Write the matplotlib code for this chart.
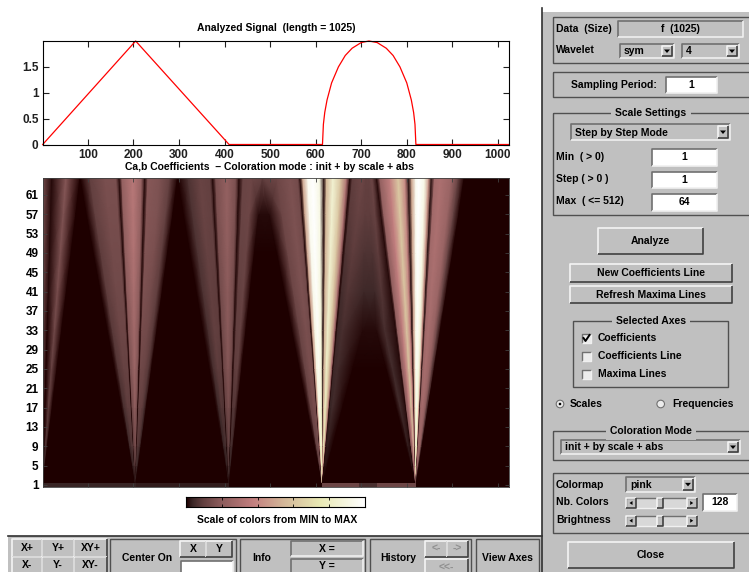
import numpy as np
import matplotlib
matplotlib.use("Agg")
import matplotlib.pyplot as plt
from matplotlib.colors import LinearSegmentedColormap
from matplotlib.patches import Rectangle, Circle, Polygon

plt.rcParams['font.family'] = ['Liberation Sans', 'DejaVu Sans']
plt.rcParams['font.weight'] = 'bold'

# signal
signal_x = [1, 205, 410, 615, 617, 620, 625, 635, 650, 665, 680, 700, 717, 735,
            755, 770, 785, 800, 810, 815, 818, 820, 1025]
signal_y = [0, 2, 0, 0, .39, .62, .86, 1.19, 1.50, 1.72, 1.86, 1.97, 2, 1.97,
            1.86, 1.72, 1.50, 1.19, .86, .62, .39, 0, 0]
signal_xticks = [100, 200, 300, 400, 500, 600, 700, 800, 900, 1000]
signal_yticks = [0, .5, 1, 1.5]
signal_yticklabels = ['0', '0.5', '1', '1.5']
scale_ticks = [1, 5, 9, 13, 17, 21, 25, 29, 33, 37, 41, 45, 49, 53, 57, 61]

# coefficient image: band knots at scale 1 and scale 64, with the level at scale 64
knot_bottom = [1, 1, 1, 1,
               205, 205, 205, 205, 205, 205, 205, 205, 205, 205, 205, 205, 205,
               410, 410, 410, 410, 410, 410, 410, 410, 410, 410, 410, 410,
               615, 615, 615, 615, 615, 615, 615, 615, 615, 615, 615, 615, 615, 615, 615, 615, 615, 615,
               820, 820, 820, 820, 820, 820, 820, 820, 820, 820, 820, 820, 820, 820, 820, 820, 820, 820, 820,
               1025]
knot_top = [1, 21, 52, 83,
            84, 105, 137, 162, 169, 175, 199, 218, 225, 232, 258, 280, 297,
            298, 320, 346, 368, 374, 381, 405, 425, 432, 441, 460, 483,
            484, 515, 544, 561, 566, 572, 583, 594, 609, 618, 624, 638, 655, 668, 675, 681, 702, 710,
            716, 724, 734, 741, 763, 781, 796, 804, 811, 820, 826, 839, 848, 854, 861, 874, 898, 913, 926,
            1025]
knot_level = [.14, .01, .18, 0,
              0, .1, .15, .15, .01, .22, .34, .22, .01, .18, .16, .1, 0,
              0, .07, .11, .1, .01, .15, .22, .15, .01, .11, .12, .1,
              .1, .12, .16, .14, .01, .5, .95, 1, .9, .02, .55, .85, .6, .3, .01, .09, .12, .1,
              .1, .12, .01, .22, .38, .62, .4, .02, .5, .95, 1, .9, .45, .02, .27, .3, .24, .1, 0,
              0]
knot_group = list("AAAA" "BBBBBBBBBBBBB" "CCCCCCCCCCCG"
                  "GDDDDDDDDDDDDDDSSV" "VSDDDDDDDDDDDDDDDDD" "Z")
# knots that leave the straight cone line, position at scale 33
knot_mid = {46: 704, 47: 734, 48: 752}

image_scales = [1.5, 5, 9, 17, 25, 33, 41, 49, 57, 64.5]
group_gain = {
    'A': [.05, .2, .35, .55, .65, .75, .85, .9, .95, 1],
    'B': [.15, .3, .42, .6, .72, .8, .87, .93, .98, 1],
    'C': [.15, .3, .45, .65, .8, .88, .92, .96, 1, 1],
    'D': [.55, .75, .85, .92, .95, .97, .98, .99, 1, 1],
    'S': [.05, .15, .25, .4, .45, .5, .6, .75, .9, 1],
    'V': [0, 0, 0, 0, 0, .1, .4, .7, .9, 1],
    'G': [0, 0, 0, 0, 0, 0, 0, .05, .1, 1],
    'Z': [0, 0, 0, 0, 0, 0, 0, 0, 0, 0],
}
# the single row at scale 1
strip_edges = [1, 205, 410, 615, 695, 735, 820, 1025]
strip_level = [.035, .03, 0, .12, .06, .12, 0]

pink_stops = [(0, (.118, 0, 0)), (.03, (.217, .141, .141)), (.09, (.38, .245, .245)),
              (.1875, (.54, .354, .354)), (.375, (.764, .5, .5)), (.55, (.83, .72, .6)),
              (.75, (.913, .913, .707)), (1, (1, 1, 1))]

W, H = 749, 572
GREY = '#c0c0c0'
LIGHT = '#e8e8e8'
DARK = '#707070'

pink = LinearSegmentedColormap.from_list('matlab_pink', pink_stops, N=128)

fig = plt.figure(figsize=(W / 100, H / 100), dpi=100, facecolor='white')


def px_axes(x0, y0, x1, y1):
    return fig.add_axes([x0 / W, 1 - y1 / H, (x1 - x0) / W, (y1 - y0) / H])


ui = fig.add_axes([0, 0, 1, 1], zorder=0)
ui.set_xlim(0, W)
ui.set_ylim(H, 0)
ui.axis('off')


def box(x0, y0, x1, y1, face=GREY, tl=LIGHT, br=DARK, lw=1.0):
    ui.add_patch(Rectangle((x0, y0), x1 - x0, y1 - y0, fc=face, ec='none'))
    ui.plot([x0, x0, x1], [y1, y0, y0], color=tl, lw=lw, solid_capstyle='butt')
    ui.plot([x0, x1, x1], [y1, y1, y0], color=br, lw=lw, solid_capstyle='butt')


def button(x0, y0, x1, y1, label=None, size=7.5, color='black'):
    box(x0, y0, x1, y1, tl='#f4f4f4', br='#404040', lw=1.2)
    if label:
        label_at((x0 + x1) / 2, (y0 + y1) / 2, label, ha='center', size=size, color=color)


def frame(x0, y0, x1, y1, title=None, tx=None):
    ui.add_patch(Rectangle((x0, y0), x1 - x0, y1 - y0, fc='none', ec='#505050', lw=1.0))
    if title:
        ui.text(tx, y0, title, ha='center', va='center', fontsize=7.5,
                bbox=dict(fc=GREY, ec='none', pad=3))


def edit(x0, y0, x1, y1, label=None):
    box(x0, y0, x1, y1, face='white', tl=DARK, br='#f0f0f0', lw=1.2)
    if label:
        label_at((x0 + x1) / 2, (y0 + y1) / 2, label, ha='center')


def popup(x0, y0, x1, y1, label):
    box(x0, y0, x1, y1, face=GREY, tl=DARK, br='#f0f0f0', lw=1.2)
    label_at(x0 + 4, (y0 + y1) / 2 + .5, label)
    button(x1 - 12, y0 + 2, x1 - 2, y1 - 2)
    cy = (y0 + y1) / 2
    ui.add_patch(Polygon([(x1 - 10, cy - 1.5), (x1 - 4, cy - 1.5), (x1 - 7, cy + 2)], fc='black', ec='none'))


def slider(x0, y0, x1, y1, thumb):
    box(x0, y0, x1, y1, face='#d8d8d8', tl=DARK, br='#f0f0f0')
    button(x0, y0, x0 + 10, y1)
    button(x1 - 10, y0, x1, y1)
    button(thumb, y0, thumb + 6, y1)
    cy = (y0 + y1) / 2
    ui.add_patch(Polygon([(x0 + 6.5, cy - 2), (x0 + 6.5, cy + 2), (x0 + 3.5, cy)], fc='black', ec='none'))
    ui.add_patch(Polygon([(x1 - 6.5, cy - 2), (x1 - 6.5, cy + 2), (x1 - 3.5, cy)], fc='black', ec='none'))


def label_at(x, y, s, ha='left', size=7.5, color='black'):
    ui.text(x, y, s, ha=ha, va='center', fontsize=size, color=color)


# bottom bar
ui.add_patch(Rectangle((8, 536), 534, H - 536, fc=GREY, ec='none'))
ui.plot([8, 541.5], [535.5, 535.5], color='#303030', lw=1.2)
for x0, x1, up, down in [(12, 42, 'X+', 'X-'), (42, 74, 'Y+', 'Y-'), (74, 107, 'XY+', 'XY-')]:
    button(x0, 539, x1, 557, up)
    button(x0, 557, x1, 574, down)
frame(110, 539, 236, 576)
label_at(147, 558, 'Center On', ha='center')
button(180, 541, 206, 557, 'X')
button(206, 541, 232, 557, 'Y')
edit(181, 561, 233, 576)
frame(240, 539, 365, 576)
label_at(262, 558, 'Info', ha='center')
box(291, 541, 363, 556, tl=DARK, br='#f0f0f0', lw=1.2)
label_at(327, 549, 'X =', ha='center')
box(291, 559, 363, 576, tl=DARK, br='#f0f0f0', lw=1.2)
label_at(327, 566, 'Y =', ha='center')
frame(370, 539, 471, 576)
label_at(398, 558, 'History', ha='center')
button(425, 541, 447, 557, '<-', color='#909090')
button(447, 541, 468, 557, '->', color='#909090')
button(425, 559, 468, 576, '<<-', color='#909090')
frame(476, 539, 539, 576)
label_at(507, 558, 'View Axes', ha='center')

# right panel
ui.add_patch(Rectangle((542, 12), W - 542, H - 12, fc=GREY, ec='none'))
ui.plot([541.5, 541.5], [8, H], color='#303030', lw=1.2)

frame(552.7, 16.7, 752, 63.3)
label_at(556, 29, 'Data  (Size)')
box(618, 20.7, 743, 36.7, tl=DARK, br='#f0f0f0', lw=1.2)
label_at(680, 29, 'f  (1025)', ha='center')
label_at(556, 50, 'Wavelet')
popup(620, 44, 674, 58, 'sym')
popup(682, 44, 739, 58, '4')

frame(552.7, 72, 752, 97)
label_at(570.7, 84.5, 'Sampling Period:')
edit(666, 76.7, 717, 93.3, '1')

frame(552.7, 112.7, 752, 215, 'Scale Settings', 651)
popup(570.7, 124, 730, 140, 'Step by Step Mode')
label_at(556, 157, 'Min  ( > 0)')
edit(651.7, 149, 717, 165.7, '1')
label_at(556, 179, 'Step ( > 0 )')
edit(651.7, 171.7, 717, 188.3, '1')
label_at(556, 201, 'Max  ( <= 512)')
edit(651.7, 194, 717, 210.7, '64')

button(598, 228, 703, 254, 'Analyze')
button(570, 264, 731.7, 281.7, 'New Coefficients Line')
button(570, 286, 731.7, 303, 'Refresh Maxima Lines')

frame(573, 321, 728, 386.7, 'Selected Axes', 651)
for cy, name in zip([338, 356, 374], ['Coefficients', 'Coefficients Line', 'Maxima Lines']):
    box(581.7, cy - 4.5, 591, cy + 4.5, face='#ececec', tl=DARK, br='#f0f0f0')
    label_at(598, cy, name)
ui.plot([583.5, 585.5, 589.5], [338, 341, 335], color='black', lw=1.4)

ui.add_patch(Circle((560, 404), 3.8, fc='#ececec', ec=DARK, lw=.8))
ui.add_patch(Circle((560, 404), 1.3, fc='black', ec='none'))
label_at(570, 404, 'Scales')
ui.add_patch(Circle((660.7, 404), 3.8, fc='#ececec', ec=DARK, lw=.8))
label_at(672, 404, 'Frequencies')

frame(552.7, 431, 752, 460, 'Coloration Mode', 650.7)
popup(560.7, 440, 740, 454, 'init + by scale + abs')

frame(552.7, 472.7, 752, 532.7)
label_at(556, 484.7, 'Colormap')
popup(626, 476.7, 695, 492, 'pink')
label_at(556, 502, 'Nb. Colors')
slider(626, 498, 696.7, 508, 657)
edit(703, 494, 737, 510.7, '128')
label_at(556, 520, 'Brightness')
slider(626, 515.7, 696.7, 525.7, 657)

button(568, 541.7, 734, 568.3, 'Close')

# signal plot
ax1 = px_axes(42.7, 41, 509.3, 144.5)
ax1.set_zorder(2)
ax1.plot(signal_x, signal_y, color='red', lw=.9, clip_on=False)
ax1.set_xlim(1, 1025)
ax1.set_ylim(0, 2)
ax1.set_xticks(signal_xticks)
ax1.set_yticks(signal_yticks)
ax1.set_yticklabels(signal_yticklabels)
ax1.tick_params(direction='in', top=True, right=True, length=4, width=.8, labelsize=8.5, pad=3, colors='#202020')
ax1.set_title('Analyzed Signal  (length = 1025)', fontsize=7.5, fontweight='bold', pad=7)

# coefficient image
bottom = np.array(knot_bottom, dtype=float)
top = np.array(knot_top, dtype=float)
mid = bottom + (top - bottom) * 32 / 63
for k, v in knot_mid.items():
    mid[k] = v
X = np.array([[np.interp(s, [1, 33, 64], [b, m, t]) for b, m, t in zip(bottom, mid, top)]
              for s in image_scales])
Y = np.array([[s] * len(knot_top) for s in image_scales])
C = np.array([[knot_level[k] * group_gain[knot_group[k]][r] for k in range(len(knot_top))]
              for r in range(len(image_scales))])

ax2 = px_axes(42.7, 178, 509.3, 487.4)
ax2.set_zorder(2)
ax2.set_facecolor(pink(0))
ax2.pcolormesh(X, Y, C, shading='gouraud', cmap=pink, vmin=0, vmax=1)
ax2.pcolormesh(strip_edges, [.5, 1.5], [strip_level], shading='flat', cmap=pink, vmin=0, vmax=1)
ax2.set_xlim(1, 1025)
ax2.set_ylim(.5, 64.5)
ax2.set_xticks(signal_xticks)
ax2.set_xticklabels([])
ax2.set_yticks(scale_ticks)
ax2.tick_params(direction='in', top=True, right=True, length=3, width=.6, labelsize=8.5, pad=3, color='#404040')
for sp in ax2.spines.values():
    sp.set_linewidth(.6)
    sp.set_color('#404040')
ax2.set_title('Ca,b Coefficients  \u2013 Coloration mode : init + by scale + abs',
              fontsize=7.5, fontweight='bold', x=.486, pad=6)

# colour scale
ax3 = px_axes(186, 496.5, 365, 507)
ax3.set_zorder(2)
ax3.imshow(np.linspace(0, 1, 128)[None, :], cmap=pink, aspect='auto', extent=[0, 1, 0, 1])
ax3.set_xticks([.2, .4, .6, .8])
ax3.set_yticks([])
ax3.set_xticklabels([])
ax3.tick_params(direction='in', top=True, length=2, width=.6)
ax3.text(.51, -1.25, 'Scale of colors from MIN to MAX', transform=ax3.transAxes, ha='center', va='center', fontsize=7.5)

fig.savefig('out.png', dpi=100)
